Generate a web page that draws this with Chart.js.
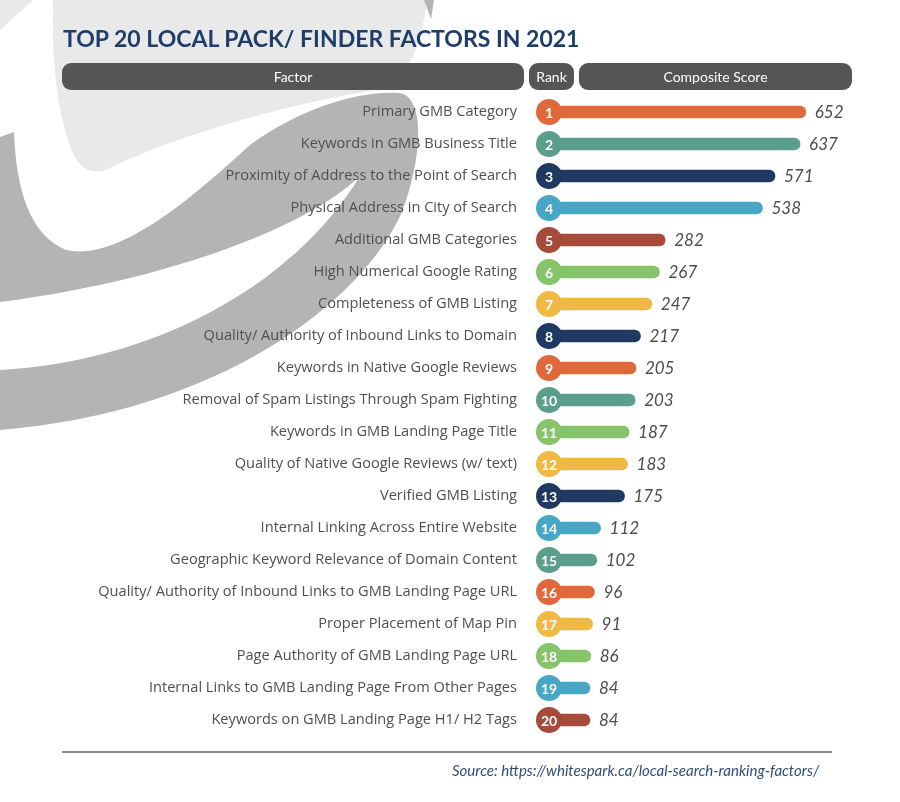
<!DOCTYPE html>
<html>
<head>
<meta charset="utf-8">
<script src="https://cdn.jsdelivr.net/npm/chart.js@4.4.0/dist/chart.umd.min.js"></script>
<style>
  body { margin: 0; background: #fff; }
  #wrap { position: relative; width: 900px; height: 802px; overflow: hidden; }
  #myChart { position: absolute; left: 0; top: 0; }
  .title { position: absolute; left: 63px; top: 24px; height: 28px;
           font: bold 23px Lato, sans-serif; color: #1f3d6b; white-space: nowrap; }
  .pill { position: absolute; top: 63px; height: 27px; border-radius: 9px;
          background: #555; color: #fff; text-align: center;
          font: 14px Lato, sans-serif; line-height: 28px; }
  .rule { position: absolute; left: 62px; top: 751px; width: 770px; height: 2px; background: #8a8a8a; }
  .source { position: absolute; left: 452px; top: 761px; height: 18px;
            font: italic 15px Lato, sans-serif; color: #2e4d7b; white-space: nowrap; }
</style>
</head>
<body>
<div id="wrap">
  <canvas id="myChart" width="900" height="802"></canvas>
  <div class="title">TOP 20 LOCAL PACK/ FINDER FACTORS IN 2021</div>
  <div class="pill" style="left:62px;width:462px;">Factor</div>
  <div class="pill" style="left:529px;width:45px;">Rank</div>
  <div class="pill" style="left:579px;width:273px;">Composite Score</div>
  <div class="rule"></div>
  <div class="source">Source: https://whitespark.ca/local-search-ranking-factors/</div>
</div>
<script>
const factors = [
    'Primary GMB Category',
    'Keywords in GMB Business Title',
    'Proximity of Address to the Point of Search',
    'Physical Address in City of Search',
    'Additional GMB Categories',
    'High Numerical Google Rating',
    'Completeness of GMB Listing',
    'Quality/ Authority of Inbound Links to Domain',
    'Keywords in Native Google Reviews',
    'Removal of Spam Listings Through Spam Fighting',
    'Keywords in GMB Landing Page Title',
    'Quality of Native Google Reviews (w/ text)',
    'Verified GMB Listing',
    'Internal Linking Across Entire Website',
    'Geographic Keyword Relevance of Domain Content',
    'Quality/ Authority of Inbound Links to GMB Landing Page URL',
    'Proper Placement of Map Pin',
    'Page Authority of GMB Landing Page URL',
    'Internal Links to GMB Landing Page From Other Pages',
    'Keywords on GMB Landing Page H1/ H2 Tags'
];
const ranks = [1, 2, 3, 4, 5, 6, 7, 8, 9, 10, 11, 12, 13, 14, 15, 16, 17, 18, 19, 20];
const scores = [652, 637, 571, 538, 282, 267, 247, 217, 205, 203, 187, 183, 175, 112, 102, 96, 91, 86, 84, 84];

const orange = '#e0693c', teal = '#5b9e8b', navy = '#1e3a63', sky = '#47a6c4',
      brick = '#a64a3a', green = '#85c46b', yellow = '#f0b944';
const barColors = [orange, teal, navy, sky, brick, green, yellow, navy, orange, teal,
                   green, yellow, navy, sky, teal, orange, yellow, green, sky, brick];

// grey swoosh watermark behind everything
const backdrop = {
    id: 'backdrop',
    beforeDraw(chart) {
        const c = chart.ctx;
        c.save();
        c.fillStyle = '#fff';
        c.fillRect(0, 0, chart.width, chart.height);

        c.fillStyle = '#e9e9e9';
        c.beginPath();
        c.moveTo(0, 0); c.lineTo(33, 0); c.lineTo(0, 30); c.closePath();
        c.fill();
        c.beginPath();
        c.moveTo(53, 0);
        c.lineTo(427, 0);
        c.quadraticCurveTo(420, 60, 392, 88);
        c.bezierCurveTo(330, 95, 200, 125, 110, 168);
        c.quadraticCurveTo(80, 182, 68, 140);
        c.bezierCurveTo(55, 100, 52, 50, 53, 0);
        c.closePath();
        c.fill();

        c.fillStyle = '#b4b4b4';
        c.beginPath();
        c.moveTo(424, 0); c.lineTo(434, 0); c.lineTo(431, 19); c.closePath();
        c.fill();
        c.beginPath();
        c.moveTo(0, 137);
        c.lineTo(14, 132);
        c.bezierCurveTo(16, 190, 30, 235, 66, 250);
        c.bezierCurveTo(120, 262, 195, 195, 250, 145);
        c.bezierCurveTo(300, 108, 360, 90, 400, 93);
        c.bezierCurveTo(426, 98, 422, 160, 402, 212);
        c.bezierCurveTo(362, 302, 220, 412, 0, 430);
        c.lineTo(0, 370);
        c.bezierCurveTo(150, 362, 292, 288, 360, 176);
        c.bezierCurveTo(302, 232, 152, 283, 0, 302);
        c.closePath();
        c.fill();
        c.restore();
    }
};

// rank badges at the start of each bar and italic scores at the end
const badges = {
    id: 'badges',
    afterDatasetsDraw(chart) {
        const c = chart.ctx;
        const meta = chart.getDatasetMeta(0);
        const cx = chart.scales.x.getPixelForValue(0) - 9;
        c.save();
        meta.data.forEach((bar, i) => {
            c.fillStyle = barColors[i];
            c.beginPath();
            c.arc(cx, bar.y, 13, 0, Math.PI * 2);
            c.fill();
            c.fillStyle = '#fff';
            c.font = 'bold 14px Lato';
            c.textAlign = 'center';
            c.textBaseline = 'middle';
            c.fillText(ranks[i], cx, bar.y + 1);
            c.fillStyle = '#4d4d4d';
            c.font = 'italic 17px Lato';
            c.textAlign = 'left';
            c.fillText(scores[i], bar.x + 9, bar.y + 1);
        });
        c.restore();
    }
};

const ctx = document.getElementById('myChart').getContext('2d');
const myChart = new Chart(ctx, {
    type: 'bar',
    data: {
        labels: factors,
        datasets: [{
            label: 'Composite Score',
            data: scores,
            backgroundColor: barColors,
            barThickness: 12,
            borderRadius: 6,
            borderSkipped: 'start'
        }]
    },
    options: {
        indexAxis: 'y',
        responsive: false,
        animation: false,
        devicePixelRatio: 1,
        layout: { padding: { left: 0, right: 38, top: 96, bottom: 66 } },
        plugins: { legend: { display: false }, tooltip: { enabled: false } },
        scales: {
            x: { display: false, min: 0, max: 800 },
            y: {
                grid: { display: false, drawTicks: false },
                border: { display: false },
                ticks: { color: '#505050', font: { family: 'Open Sans', size: 14.6 }, padding: 41 },
                afterFit(scale) { scale.width = 558; }
            }
        }
    },
    plugins: [backdrop, badges]
});
</script>
</body>
</html>
